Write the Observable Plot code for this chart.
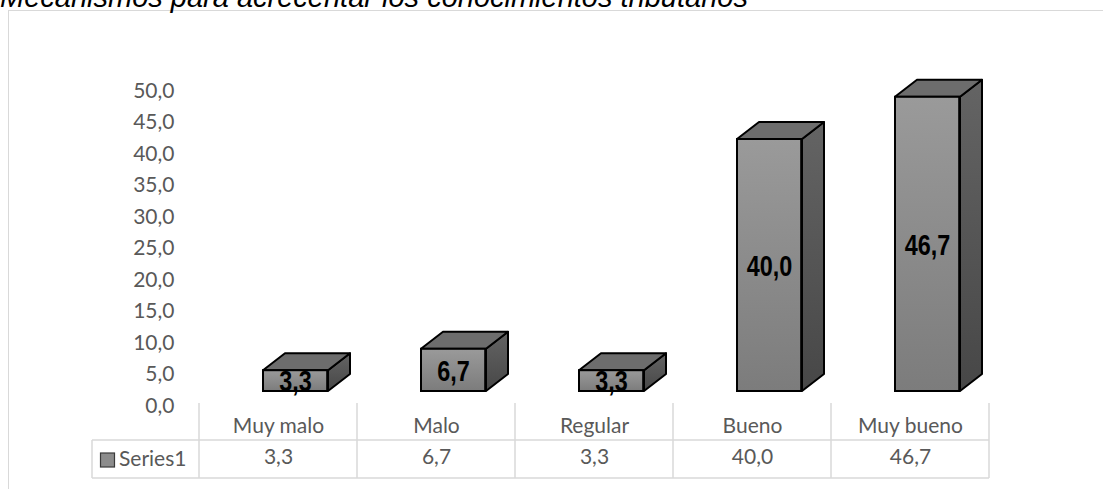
<!DOCTYPE html>
<html><head><meta charset="utf-8">
<script src="https://cdn.jsdelivr.net/npm/d3@7"></script>
<script src="https://cdn.jsdelivr.net/npm/@observablehq/plot@0.6"></script>
<style>
html,body{margin:0;padding:0;background:#fff}
body{width:1103px;height:489px;overflow:hidden;position:relative}
#frame{position:absolute;left:8px;top:10px;width:1200px;height:600px;border:1px solid #d9d9d9;box-sizing:border-box}
#title{position:absolute;left:0;top:-17px;margin:0;font:italic 29px "Liberation Sans",Arial,sans-serif;line-height:29px;white-space:nowrap;color:#000}
#chart{position:absolute;left:0;top:0}
</style>
</head><body>
<div id="frame"></div>
<div id="title">Mecanismos para acrecentar los conocimientos tributarios</div>
<div id="chart"></div>
<script>
const categories = ["Muy malo", "Malo", "Regular", "Bueno", "Muy bueno"];
const values = [3.3, 6.7, 3.3, 40.0, 46.7];
const seriesName = "Series1";
const yTicks = [0, 5, 10, 15, 20, 25, 30, 35, 40, 45, 50];

const data = categories.map((c, i) => ({category: c, value: values[i]}));
const fmt = v => v.toFixed(1).replace(".", ",");

// style constants
const FRONT_OFF = 64, FRONT_W = 65, DX = 22, DY = -17, BASE_DY = -14.5;
const GRID = "#d9d9d9", TXT = "#595959";

function defs() {
  const d = d3.create("svg:defs");
  const g1 = d.append("linearGradient").attr("id", "frontGrad").attr("x1", 0).attr("y1", 0).attr("x2", 0).attr("y2", 1);
  g1.append("stop").attr("offset", "0%").attr("stop-color", "#9a9a9a");
  g1.append("stop").attr("offset", "100%").attr("stop-color", "#7c7c7c");
  const g2 = d.append("linearGradient").attr("id", "sideGrad").attr("x1", 0).attr("y1", 0).attr("x2", 0).attr("y2", 1);
  g2.append("stop").attr("offset", "0%").attr("stop-color", "#646464");
  g2.append("stop").attr("offset", "100%").attr("stop-color", "#474747");
  return d.node();
}

function bw(scales, dims) {
  return scales.x.bandwidth ? scales.x.bandwidth() : (dims.width - dims.marginLeft - dims.marginRight) / categories.length;
}

function faces(index, scales, vals, dims) {
  const g = d3.create("svg:g");
  for (const d of data) {
    const x0 = scales.x(d.category) + FRONT_OFF, x1 = x0 + FRONT_W;
    const yb = scales.y(0) + BASE_DY, yt = scales.y(d.value) + BASE_DY;
    g.append("polygon")
      .attr("points", [[x1, yt], [x1 + DX, yt + DY], [x1 + DX, yb + DY], [x1, yb]].join(" "))
      .attr("fill", "url(#sideGrad)").attr("stroke", "#000").attr("stroke-width", 2).attr("stroke-linejoin", "round");
    g.append("polygon")
      .attr("points", [[x0, yt], [x0 + DX, yt + DY], [x1 + DX, yt + DY], [x1, yt]].join(" "))
      .attr("fill", "#6d6d6d").attr("stroke", "#000").attr("stroke-width", 2).attr("stroke-linejoin", "round");
  }
  return g.node();
}

function barLabels(index, scales, vals, dims) {
  const g = d3.create("svg:g")
    .attr("font-family", "'Liberation Sans', Arial, sans-serif")
    .attr("font-weight", "bold").attr("font-size", 30).attr("fill", "#000").attr("text-anchor", "middle");
  for (const d of data) {
    const cx = scales.x(d.category) + FRONT_OFF + FRONT_W / 2;
    const cy = (scales.y(0) + scales.y(d.value)) / 2 + BASE_DY;
    g.append("text").attr("transform", `translate(${cx},${cy}) scale(0.78,1)`)
      .attr("dy", "0.36em").text(fmt(d.value));
  }
  return g.node();
}

function table(index, scales, vals, dims) {
  const all = d3.create("svg:g");
  const g = all.append("g").attr("stroke", GRID).attr("stroke-width", 1.5);
  const w = bw(scales, dims);
  const yb = dims.height - dims.marginBottom;
  const xs = categories.map(c => scales.x(c)).concat([scales.x(categories[categories.length - 1]) + w]);
  const xl = dims.marginLeft - 105;
  for (const x of xs) g.append("line").attr("x1", x).attr("x2", x).attr("y1", yb - 2.5).attr("y2", yb + 72.5);
  g.append("line").attr("x1", xl).attr("x2", xl).attr("y1", yb + 34.5).attr("y2", yb + 72.5);
  g.append("line").attr("x1", xl).attr("x2", xs[xs.length - 1]).attr("y1", yb + 34.5).attr("y2", yb + 34.5);
  g.append("line").attr("x1", xl).attr("x2", xs[xs.length - 1]).attr("y1", yb + 72.5).attr("y2", yb + 72.5);
  // legend key
  all.append("rect").attr("x", xl + 8.5).attr("y", yb + 47.5).attr("width", 14).attr("height", 14)
    .attr("fill", "#8c8c8c").attr("stroke", "#3a3a3a").attr("stroke-width", 1.2);
  all.append("text").attr("x", xl + 27).attr("y", yb + 53.5).attr("dy", "0.35em").attr("text-anchor", "start")
    .attr("fill", TXT).attr("font-family", "Lato").attr("font-size", 21).text(seriesName);
  return all.node();
}

const chart = Plot.plot({
  width: 1103,
  height: 489,
  marginLeft: 197,
  marginRight: 112,
  marginTop: 90.5,
  marginBottom: 83.5,
  style: {background: "transparent", overflow: "visible", fontFamily: "Lato", fontSize: "21px", color: TXT},
  x: {type: "band", domain: categories, padding: 0, axis: null},
  y: {domain: [0, 50], axis: null},
  marks: [
    defs,
    Plot.axisY({ticks: yTicks, tickFormat: fmt, tickSize: 0, tickPadding: 23, fontSize: 21, fontFamily: "Lato", fill: TXT, label: null}),
    table,
    faces,
    Plot.barY(data, {x: "category", y: "value", fill: "url(#frontGrad)", stroke: "#000", strokeWidth: 2,
      insetLeft: FRONT_OFF, insetRight: 158.8 - FRONT_OFF - FRONT_W, dy: BASE_DY}),
    barLabels,
    Plot.text(categories, {x: d => d, frameAnchor: "bottom", dy: 27, fill: TXT, fontSize: 21, fontFamily: "Lato"}),
    Plot.text(data, {x: "category", text: d => fmt(d.value), frameAnchor: "bottom", dy: 58, fill: TXT, fontSize: 21, fontFamily: "Lato"})
  ]
});
document.getElementById("chart").appendChild(chart);
</script>
</body></html>
